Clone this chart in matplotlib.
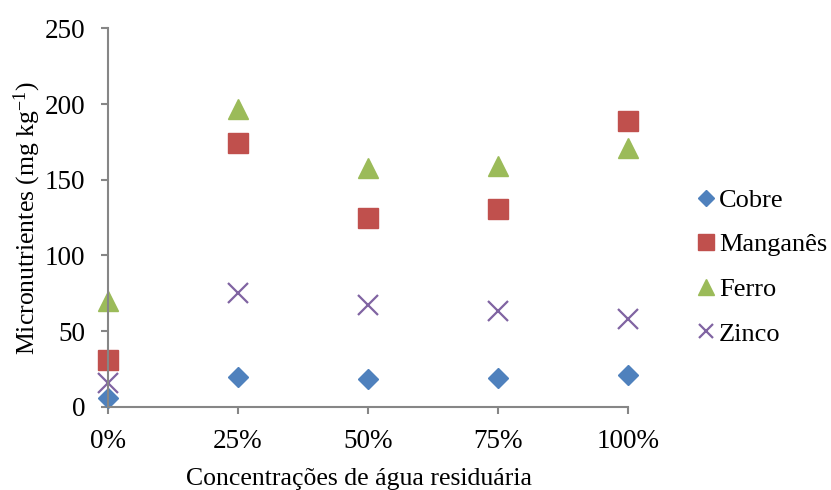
import numpy as np
import matplotlib
matplotlib.use('Agg')
import matplotlib.pyplot as plt

# concentrações de água residuária (%)
concentracoes = [0, 25, 50, 75, 100]
rotulos_x = ['0%', '25%', '50%', '75%', '100%']

# micronutrientes (mg kg-1)
cobre = [5.5, 19.5, 18.5, 19, 21]
manganes = [31, 174, 124.5, 130.5, 189]
ferro = [70, 197, 157.5, 159, 171]
zinco = [15.5, 75, 67.5, 63.5, 58]

plt.rcParams['font.family'] = ['Liberation Serif', 'DejaVu Serif']
plt.rcParams['mathtext.fontset'] = 'custom'
plt.rcParams['mathtext.rm'] = 'Liberation Serif'
plt.rcParams['font.size'] = 19.5

cinza = '#868686'

fig = plt.figure(figsize=(8.31, 4.90), dpi=100)
ax = fig.add_axes([0.1296, 0.170, 0.6265, 0.772])

ax.plot(concentracoes, cobre, linestyle='none', marker='D', ms=10.5,
        color='#4F81BD', label='Cobre')
ax.plot(concentracoes, manganes, linestyle='none', marker='s', ms=14.5,
        color='#C0504D', label='Manganês')
ax.plot(concentracoes, ferro, linestyle='none', marker='^', ms=14.5,
        color='#9BBB59', label='Ferro')
ax.plot(concentracoes, zinco, linestyle='none', marker='x', ms=14,
        mew=1.6, color='#8064A2', label='Zinco')

ax.set_xlim(0, 100)
ax.set_ylim(0, 250)
ax.set_xticks(concentracoes)
ax.set_xticklabels(rotulos_x)
ax.set_yticks(np.arange(0, 251, 50))

for lado in ['top', 'right']:
    ax.spines[lado].set_visible(False)
for lado in ['left', 'bottom']:
    ax.spines[lado].set_color(cinza)
    ax.spines[lado].set_linewidth(1.5)
ax.tick_params(axis='both', direction='out', length=5, width=1.5,
               color=cinza, labelsize=19.5)
ax.tick_params(axis='y', pad=11)
ax.tick_params(axis='x', pad=11)
for linha in ax.get_xticklines() + ax.get_yticklines():
    linha.set_clip_on(False)
for item in ax.lines:
    item.set_clip_on(False)

ax.set_ylabel('Micronutrientes (mg $\\mathregular{kg^{-1}}$)', fontsize=18.5)
ax.yaxis.set_label_coords(-0.125, 0.5)
ax.set_xlabel('Concentrações de água residuária', fontsize=18.5)
ax.xaxis.set_label_coords(0.482, -0.163)

ax.legend(loc='center left', bbox_to_anchor=(0.8255, 0.455),
          bbox_transform=fig.transFigure, frameon=False,
          handlelength=0.7, handletextpad=0.15, labelspacing=0.8,
          markerscale=0.75, borderaxespad=0, fontsize=19)

fig.savefig('out.png', dpi=100)
